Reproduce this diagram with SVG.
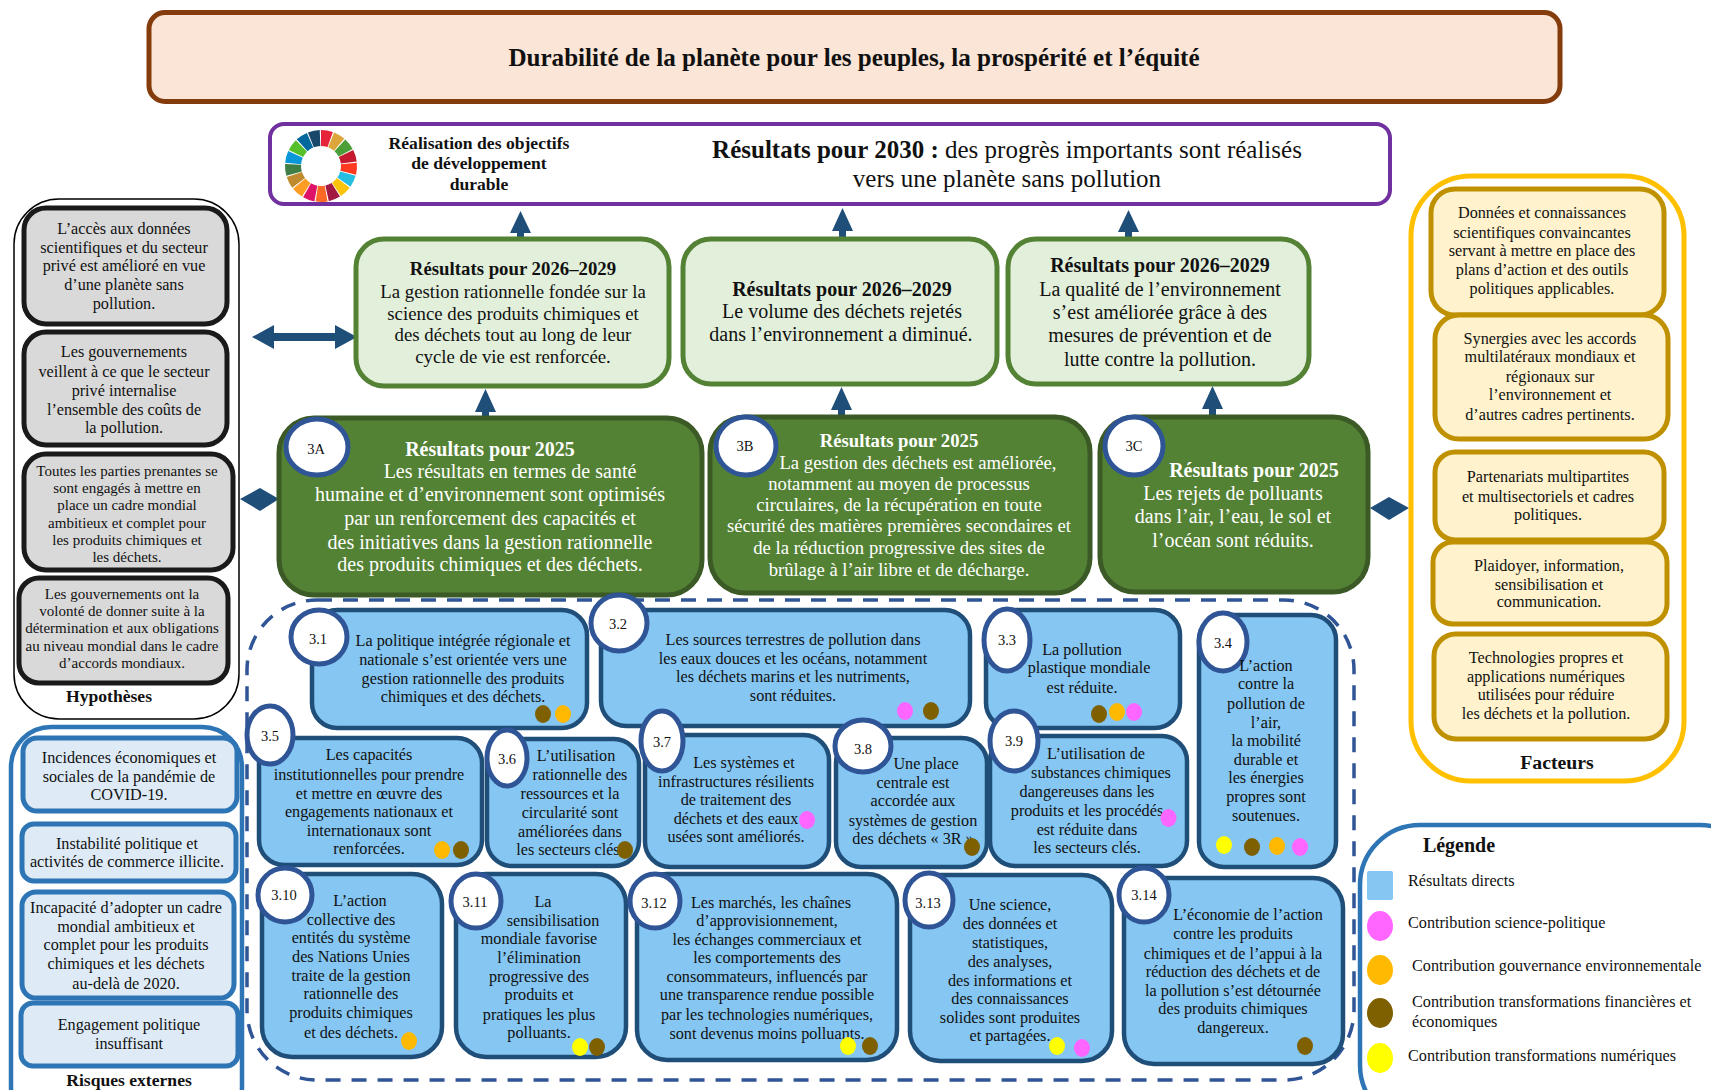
<svg xmlns="http://www.w3.org/2000/svg" width="1711" height="1090" viewBox="0 0 1711 1090">
<style>
text{font-family:"Liberation Serif","Times New Roman",serif;fill:#111;text-anchor:middle}
.b{font-weight:bold}
.s{font-size:14.5px}
.t{font-size:16.200px}
.h{font-size:15px}
.m{font-size:16.200px}
.k{font-size:17.600px}
.l{font-size:18.800px}
.xl{font-size:20px}
.w{fill:#fff}
.st{text-anchor:start}
.hyp{fill:#d9d9d9;stroke:#1a1a1a;stroke-width:5}
.risk{fill:#deebf7;stroke:#2e75b6;stroke-width:5}
.fac{fill:#fff2cc;stroke:#bf9000;stroke-width:5}
.lg{fill:#e2efda;stroke:#548235;stroke-width:5}
.dg{fill:#548235;stroke:#3b5a26;stroke-width:5}
.bb{fill:#85c6f2;stroke:#1f4e79;stroke-width:4.500}
.n{fill:#fff;stroke:#2f5597;stroke-width:5}
.arr{fill:#1f4e79}
.pk{fill:#ff66ff}.or{fill:#ffb900}.br{fill:#7f6000}.ye{fill:#ffff00}
.seg{fill:none;stroke-width:16;stroke-dasharray:9.4 166.5}
</style>
<rect width="1711" height="1090" fill="#fff"/>
<g id="title"><rect x="149" y="12.500" width="1411" height="89" rx="16" fill="#fbe5d6" stroke="#843c0c" stroke-width="5"/><text class="b" x="854" y="66" font-size="25.100">Durabilité de la planète pour les peuples, la prospérité et l’équité</text></g>
<g id="outcome-2030"><rect x="270" y="124" width="1120" height="80" rx="14" fill="#fff" stroke="#7030a0" stroke-width="4"/>
<g id="sdg-wheel">
<circle class="seg" cx="321" cy="166" r="28" stroke="#e5243b" transform="rotate(-90 321 166)"/>
<circle class="seg" cx="321" cy="166" r="28" stroke="#dda63a" transform="rotate(-68.800 321 166)"/>
<circle class="seg" cx="321" cy="166" r="28" stroke="#4c9f38" transform="rotate(-47.600 321 166)"/>
<circle class="seg" cx="321" cy="166" r="28" stroke="#c5192d" transform="rotate(-26.500 321 166)"/>
<circle class="seg" cx="321" cy="166" r="28" stroke="#ff3a21" transform="rotate(-5.300 321 166)"/>
<circle class="seg" cx="321" cy="166" r="28" stroke="#26bde2" transform="rotate(15.900 321 166)"/>
<circle class="seg" cx="321" cy="166" r="28" stroke="#fcc30b" transform="rotate(37.100 321 166)"/>
<circle class="seg" cx="321" cy="166" r="28" stroke="#a21942" transform="rotate(58.200 321 166)"/>
<circle class="seg" cx="321" cy="166" r="28" stroke="#fd6925" transform="rotate(79.400 321 166)"/>
<circle class="seg" cx="321" cy="166" r="28" stroke="#dd1367" transform="rotate(100.600 321 166)"/>
<circle class="seg" cx="321" cy="166" r="28" stroke="#fd9d24" transform="rotate(121.800 321 166)"/>
<circle class="seg" cx="321" cy="166" r="28" stroke="#bf8b2e" transform="rotate(143 321 166)"/>
<circle class="seg" cx="321" cy="166" r="28" stroke="#3f7e44" transform="rotate(164.100 321 166)"/>
<circle class="seg" cx="321" cy="166" r="28" stroke="#0a97d9" transform="rotate(185.300 321 166)"/>
<circle class="seg" cx="321" cy="166" r="28" stroke="#56c02b" transform="rotate(206.500 321 166)"/>
<circle class="seg" cx="321" cy="166" r="28" stroke="#00689d" transform="rotate(227.700 321 166)"/>
<circle class="seg" cx="321" cy="166" r="28" stroke="#19486a" transform="rotate(248.800 321 166)"/>
</g>
<text class="b k" x="479" y="148.500">Réalisation des objectifs</text><text class="b k" x="479" y="169">de développement</text><text class="b k" x="479" y="190">durable</text>
<text x="1007" y="158" font-size="25"><tspan class="b">Résultats pour 2030 :</tspan> des progrès importants sont réalisés</text>
<text x="1007" y="187" font-size="25">vers une planète sans pollution</text></g>

<g id="connectors">
<polygon class="arr" points="520.500,211 531,233 524,233 524,239 517,239 517,233 510,233"/>
<polygon class="arr" points="842.500,208 853,231 846,231 846,239 839,239 839,231 832,231"/>
<polygon class="arr" points="1128.500,210 1139,232 1132,232 1132,239 1125,239 1125,232 1118,232"/>
<polygon class="arr" points="485.500,389 496,412 489,412 489,417 482,417 482,412 475,412"/>
<polygon class="arr" points="841.500,387 852,410 845,410 845,416 838,416 838,410 831,410"/>
<polygon class="arr" points="1212.500,386 1223,409 1216,409 1216,416 1209,416 1209,409 1202,409"/>
<polygon class="arr" points="252,337 274,325 274,333 335,333 335,325 357,337 335,349 335,341 274,341 274,349"/>
<polygon class="arr" points="240,499 260,488 279,499 260,511"/>
<polygon class="arr" points="1370,508 1389,497 1409,508 1389,520"/>
</g>

<g id="hypotheses"><rect x="14" y="199" width="225" height="520" rx="45" fill="#fff" stroke="#000" stroke-width="1.500"/><text class="b k" x="109" y="702">Hypothèses</text></g>
<g id="h1"><rect class="hyp" x="24" y="208" width="203" height="116" rx="22"/><text class="m" x="124" y="234">L’accès aux données</text><text class="m" x="124" y="253">scientifiques et du secteur</text><text class="m" x="124" y="271">privé est amélioré en vue</text><text class="m" x="124" y="290">d’une planète sans</text><text class="m" x="124" y="309">pollution.</text></g>
<g id="h2"><rect class="hyp" x="24" y="332" width="203" height="113" rx="22"/><text class="m" x="124" y="357">Les gouvernements</text><text class="m" x="124" y="377">veillent à ce que le secteur</text><text class="m" x="124" y="396">privé internalise</text><text class="m" x="124" y="415">l’ensemble des coûts de</text><text class="m" x="124" y="433">la pollution.</text></g>
<g id="h3"><rect class="hyp" x="24" y="454" width="209" height="116" rx="22"/><text class="h" x="127" y="476">Toutes les parties prenantes se</text><text class="h" x="127" y="493">sont engagés à mettre en</text><text class="h" x="127" y="510">place un cadre mondial</text><text class="h" x="127" y="528">ambitieux et complet pour</text><text class="h" x="127" y="545">les produits chimiques et</text><text class="h" x="127" y="562">les déchets.</text></g>
<g id="h4"><rect class="hyp" x="19" y="578" width="209" height="105" rx="20"/><text class="h" x="122" y="599">Les gouvernements ont la</text><text class="h" x="122" y="616">volonté de donner suite à la</text><text class="h" x="122" y="633">détermination et aux obligations</text><text class="h" x="122" y="651">au niveau mondial dans le cadre</text><text class="h" x="122" y="668">d’accords mondiaux.</text></g>

<g id="risques"><rect x="11" y="727" width="231" height="400" rx="40" fill="#fff" stroke="#2e75b6" stroke-width="4.500"/><text class="b k" x="129" y="1086">Risques externes</text></g>
<g id="r1"><rect class="risk" x="23" y="738" width="214" height="73" rx="14"/><text class="m" x="129" y="763">Incidences économiques et</text><text class="m" x="129" y="782">sociales de la pandémie de</text><text class="m" x="129" y="800">COVID-19.</text></g>
<g id="r2"><rect class="risk" x="22" y="824" width="214" height="57" rx="12"/><text class="m" x="127" y="849">Instabilité politique et</text><text class="m" x="127" y="867">activités de commerce illicite.</text></g>
<g id="r3"><rect class="risk" x="22" y="892" width="212" height="106" rx="14"/><text class="m" x="126" y="913">Incapacité d’adopter un cadre</text><text class="m" x="126" y="932">mondial ambitieux et</text><text class="m" x="126" y="950">complet pour les produits</text><text class="m" x="126" y="969">chimiques et les déchets</text><text class="m" x="126" y="989">au-delà de 2020.</text></g>
<g id="r4"><rect class="risk" x="21" y="1003" width="217" height="63" rx="12"/><text class="m" x="129" y="1030">Engagement politique</text><text class="m" x="129" y="1049">insuffisant</text></g>

<g id="outputs-frame"><rect x="247" y="600" width="1107" height="480" rx="70" fill="none" stroke="#2f5597" stroke-width="3.500" stroke-dasharray="15 11"/></g>

<g id="lg1"><rect class="lg" x="356" y="239" width="313" height="147" rx="28"/><text class="l b" x="513" y="275">Résultats pour 2026–2029</text><text class="l" x="513" y="298">La gestion rationnelle fondée sur la</text><text class="l" x="513" y="320">science des produits chimiques et</text><text class="l" x="513" y="341">des déchets tout au long de leur</text><text class="l" x="513" y="363">cycle de vie est renforcée.</text></g>
<g id="lg2"><rect class="lg" x="683" y="239" width="314" height="145" rx="28"/><text class="xl b" x="842" y="296">Résultats pour 2026–2029</text><text class="xl" x="842" y="318">Le volume des déchets rejetés</text><text class="xl" x="841" y="341">dans l’environnement a diminué.</text></g>
<g id="lg3"><rect class="lg" x="1008" y="239" width="301" height="145" rx="28"/><text class="xl b" x="1160" y="272">Résultats pour 2026–2029</text><text class="xl" x="1160" y="296">La qualité de l’environnement</text><text class="xl" x="1160" y="319">s’est améliorée grâce à des</text><text class="xl" x="1160" y="342">mesures de prévention et de</text><text class="xl" x="1160" y="366">lutte contre la pollution.</text></g>

<g id="n3A"><rect class="dg" x="279" y="418" width="423" height="177" rx="35"/><ellipse class="n" cx="317" cy="447" rx="31" ry="28"/><text class="s" x="316" y="454">3A</text><text class="xl b w" x="490" y="456">Résultats pour 2025</text><text class="xl w" x="510" y="478">Les résultats en termes de santé</text><text class="xl w" x="490" y="501">humaine et d’environnement sont optimisés</text><text class="xl w" x="490" y="525">par un renforcement des capacités et</text><text class="xl w" x="490" y="549">des initiatives dans la gestion rationnelle</text><text class="xl w" x="490" y="571">des produits chimiques et des déchets.</text></g>
<g id="n3B"><rect class="dg" x="710" y="417" width="380" height="176" rx="35"/><ellipse class="n" cx="746" cy="446" rx="30" ry="29"/><text class="s" x="745" y="451">3B</text><text class="b w" font-size="18.700" x="899" y="447">Résultats pour 2025</text><text class="w" font-size="18.700" x="918" y="469">La gestion des déchets est améliorée,</text><text class="w" font-size="18.700" x="899" y="490">notamment au moyen de processus</text><text class="w" font-size="18.700" x="899" y="511">circulaires, de la récupération en toute</text><text class="w" font-size="18.700" x="899" y="532">sécurité des matières premières secondaires et</text><text class="w" font-size="18.700" x="899" y="554">de la réduction progressive des sites de</text><text class="w" font-size="18.700" x="899" y="576">brûlage à l’air libre et de décharge.</text></g>
<g id="n3C"><rect class="dg" x="1100" y="417" width="268" height="175" rx="35"/><ellipse class="n" cx="1134" cy="446" rx="29" ry="29"/><text class="s" x="1134" y="451">3C</text><text class="xl b w" x="1254" y="477">Résultats pour 2025</text><text class="xl w" x="1233" y="500">Les rejets de polluants</text><text class="xl w" x="1233" y="523">dans l’air, l’eau, le sol et</text><text class="xl w" x="1233" y="547">l’océan sont réduits.</text></g>

<g id="n3-1"><rect class="bb" x="312" y="610" width="275" height="118" rx="25"/><ellipse class="n" cx="319" cy="637" rx="28" ry="27"/><text class="s" x="318" y="644">3.1</text><g class="t"><text x="463" y="646">La politique intégrée régionale et</text><text x="463" y="665">nationale s’est orientée vers une</text><text x="463" y="684">gestion rationnelle des produits</text><text x="463" y="702">chimiques et des déchets.</text></g><ellipse class="br" cx="543" cy="714" rx="8" ry="9"/><ellipse class="or" cx="563" cy="714" rx="8" ry="9"/></g>
<g id="n3-2"><rect class="bb" x="601" y="610" width="369" height="116" rx="25"/><ellipse class="n" cx="619" cy="623" rx="28" ry="28"/><text class="s" x="618" y="629">3.2</text><g class="t"><text x="793" y="645">Les sources terrestres de pollution dans</text><text x="793" y="664">les eaux douces et les océans, notamment</text><text x="793" y="682">les déchets marins et les nutriments,</text><text x="793" y="701">sont réduites.</text></g><ellipse class="pk" cx="905" cy="711" rx="8" ry="9"/><ellipse class="br" cx="931" cy="711" rx="8" ry="9"/></g>
<g id="n3-3"><rect class="bb" x="986" y="610" width="194" height="118" rx="25"/><ellipse class="n" cx="1007" cy="640" rx="23" ry="31"/><text class="s" x="1007" y="645">3.3</text><g class="t"><text x="1082" y="655">La pollution</text><text x="1089" y="673">plastique mondiale</text><text x="1082" y="693">est réduite.</text></g><ellipse class="br" cx="1099" cy="714" rx="8" ry="9"/><ellipse class="or" cx="1117" cy="712" rx="8" ry="9"/><ellipse class="pk" cx="1134" cy="712" rx="8" ry="9"/></g>
<g id="n3-4"><rect class="bb" x="1199" y="615" width="137" height="252" rx="25"/><ellipse class="n" cx="1223" cy="642" rx="24" ry="29"/><text class="s" x="1223" y="648">3.4</text><g class="t"><text x="1266" y="671">L’action</text><text x="1266" y="689">contre la</text><text x="1266" y="709">pollution de</text><text x="1266" y="728">l’air,</text><text x="1266" y="746">la mobilité</text><text x="1266" y="765">durable et</text><text x="1266" y="783">les énergies</text><text x="1266" y="802">propres sont</text><text x="1266" y="821">soutenues.</text></g><ellipse class="ye" cx="1224" cy="845" rx="8" ry="9"/><ellipse class="br" cx="1252" cy="847" rx="8" ry="9"/><ellipse class="or" cx="1277" cy="846" rx="8" ry="9"/><ellipse class="pk" cx="1300" cy="847" rx="8" ry="9"/></g>
<g id="n3-5"><rect class="bb" x="259" y="738" width="223" height="127" rx="25"/><ellipse class="n" cx="270" cy="735" rx="23" ry="29"/><text class="s" x="270" y="741">3.5</text><g class="t"><text x="369" y="760">Les capacités</text><text x="369" y="780">institutionnelles pour prendre</text><text x="369" y="799">et mettre en œuvre des</text><text x="369" y="817">engagements nationaux et</text><text x="369" y="836">internationaux sont</text><text x="369" y="854">renforcées.</text></g><ellipse class="or" cx="442" cy="850" rx="8" ry="9"/><ellipse class="br" cx="461" cy="850" rx="8" ry="9"/></g>
<g id="n3-6"><rect class="bb" x="487" y="739" width="152" height="127" rx="25"/><ellipse class="n" cx="507" cy="758" rx="20" ry="28"/><text class="s" x="507" y="764">3.6</text><g class="t"><text x="576" y="761">L’utilisation</text><text x="580" y="780">rationnelle des</text><text x="570" y="799">ressources et la</text><text x="570" y="818">circularité sont</text><text x="570" y="837">améliorées dans</text><text x="570" y="855">les secteurs clés.</text></g><ellipse class="br" cx="625" cy="850" rx="8" ry="9"/></g>
<g id="n3-7"><rect class="bb" x="645" y="735" width="184" height="132" rx="25"/><ellipse class="n" cx="662" cy="741" rx="21" ry="30"/><text class="s" x="662" y="747">3.7</text><g class="t"><text x="744" y="768">Les systèmes et</text><text x="736" y="787">infrastructures résilients</text><text x="736" y="805">de traitement des</text><text x="736" y="824">déchets et des eaux</text><text x="736" y="842">usées sont améliorés.</text></g><ellipse class="pk" cx="807" cy="820" rx="8" ry="9"/></g>
<g id="n3-8"><rect class="bb" x="836" y="738" width="151" height="129" rx="25"/><ellipse class="n" cx="863" cy="746" rx="28" ry="26"/><text class="s" x="863" y="754">3.8</text><g class="t"><text x="926" y="769">Une place</text><text x="913" y="788">centrale est</text><text x="913" y="806">accordée aux</text><text x="913" y="826">systèmes de gestion</text><text x="913" y="844">des déchets « 3R »</text></g><ellipse class="br" cx="972" cy="847" rx="8" ry="9"/></g>
<g id="n3-9"><rect class="bb" x="990" y="736" width="197" height="130" rx="25"/><ellipse class="n" cx="1014" cy="741" rx="24" ry="30"/><text class="s" x="1014" y="746">3.9</text><g class="t"><text x="1096" y="759">L’utilisation de</text><text x="1101" y="778">substances chimiques</text><text x="1087" y="797">dangereuses dans les</text><text x="1087" y="816">produits et les procédés</text><text x="1087" y="835">est réduite dans</text><text x="1087" y="853">les secteurs clés.</text></g><ellipse class="pk" cx="1168.500" cy="818" rx="8" ry="9"/></g>
<g id="n3-10"><rect class="bb" x="262" y="874" width="180" height="183" rx="30"/><ellipse class="n" cx="285" cy="895" rx="27" ry="27"/><text class="s" x="284" y="900">3.10</text><g class="t"><text x="360" y="906">L’action</text><text x="351" y="925">collective des</text><text x="351" y="943">entités du système</text><text x="351" y="962">des Nations Unies</text><text x="351" y="981">traite de la gestion</text><text x="351" y="999">rationnelle des</text><text x="351" y="1018">produits chimiques</text><text x="351" y="1038">et des déchets.</text></g><ellipse class="or" cx="409" cy="1041" rx="8" ry="9"/></g>
<g id="n3-11"><rect class="bb" x="456" y="874" width="170" height="183" rx="30"/><ellipse class="n" cx="476" cy="901" rx="25" ry="27"/><text class="s" x="475" y="907">3.11</text><g class="t"><text x="543" y="907">La</text><text x="553" y="926">sensibilisation</text><text x="539" y="944">mondiale favorise</text><text x="539" y="963">l’élimination</text><text x="539" y="982">progressive des</text><text x="539" y="1000">produits et</text><text x="539" y="1020">pratiques les plus</text><text x="539" y="1038">polluants.</text></g><ellipse class="ye" cx="580" cy="1047" rx="8" ry="9"/><ellipse class="br" cx="597" cy="1047" rx="8" ry="9"/></g>
<g id="n3-12"><rect class="bb" x="637" y="874" width="260" height="186" rx="30"/><ellipse class="n" cx="655" cy="901" rx="25" ry="27"/><text class="s" x="654" y="908">3.12</text><g class="t"><text x="771" y="908">Les marchés, les chaînes</text><text x="767" y="926">d’approvisionnement,</text><text x="767" y="945">les échanges commerciaux et</text><text x="767" y="963">les comportements des</text><text x="767" y="982">consommateurs, influencés par</text><text x="767" y="1000">une transparence rendue possible</text><text x="767" y="1020">par les technologies numériques,</text><text x="767" y="1039">sont devenus moins polluants.</text></g><ellipse class="ye" cx="848" cy="1046" rx="8" ry="9"/><ellipse class="br" cx="870" cy="1046" rx="8" ry="9"/></g>
<g id="n3-13"><rect class="bb" x="910" y="875" width="202" height="186" rx="30"/><ellipse class="n" cx="929" cy="900" rx="24" ry="27"/><text class="s" x="928" y="908">3.13</text><g class="t"><text x="1010" y="910">Une science,</text><text x="1010" y="929">des données et</text><text x="1010" y="948">statistiques,</text><text x="1010" y="967">des analyses,</text><text x="1010" y="986">des informations et</text><text x="1010" y="1004">des connaissances</text><text x="1010" y="1023">solides sont produites</text><text x="1010" y="1041">et partagées.</text></g><ellipse class="ye" cx="1057" cy="1046" rx="8" ry="9"/><ellipse class="pk" cx="1082" cy="1048" rx="8" ry="9"/></g>
<g id="n3-14"><rect class="bb" x="1124" y="878" width="219" height="186" rx="30"/><ellipse class="n" cx="1144" cy="895" rx="25" ry="27"/><text class="s" x="1144" y="900">3.14</text><g class="t"><text x="1248" y="920">L’économie de l’action</text><text x="1233" y="939">contre les produits</text><text x="1233" y="959">chimiques et de l’appui à la</text><text x="1233" y="977">réduction des déchets et de</text><text x="1233" y="996">la pollution s’est détournée</text><text x="1233" y="1014">des produits chimiques</text><text x="1233" y="1033">dangereux.</text></g><ellipse class="br" cx="1305" cy="1046" rx="8" ry="9"/></g>

<g id="facteurs"><rect x="1411" y="176" width="273" height="605" rx="60" fill="#fff" stroke="#ffc000" stroke-width="5"/><text class="b" font-size="19.800" x="1557" y="769">Facteurs</text></g>
<g id="f1"><rect class="fac" x="1431" y="189" width="233" height="126" rx="24"/><text class="m" x="1542" y="218">Données et connaissances</text><text class="m" x="1542" y="238">scientifiques convaincantes</text><text class="m" x="1542" y="256">servant à mettre en place des</text><text class="m" x="1542" y="275">plans d’action et des outils</text><text class="m" x="1542" y="294">politiques applicables.</text></g>
<g id="f2"><rect class="fac" x="1435" y="315" width="233" height="124" rx="24"/><text class="m" x="1550" y="344">Synergies avec les accords</text><text class="m" x="1550" y="362">multilatéraux mondiaux et</text><text class="m" x="1550" y="382">régionaux sur</text><text class="m" x="1550" y="400">l’environnement et</text><text class="m" x="1550" y="420">d’autres cadres pertinents.</text></g>
<g id="f3"><rect class="fac" x="1435" y="452" width="229" height="88" rx="20"/><text class="m" x="1548" y="482">Partenariats multipartites</text><text class="m" x="1548" y="502">et multisectoriels et cadres</text><text class="m" x="1548" y="520">politiques.</text></g>
<g id="f4"><rect class="fac" x="1433" y="542" width="234" height="82" rx="20"/><text class="m" x="1549" y="571">Plaidoyer, information,</text><text class="m" x="1549" y="590">sensibilisation et</text><text class="m" x="1549" y="607">communication.</text></g>
<g id="f5"><rect class="fac" x="1434" y="634" width="233" height="105" rx="22"/><text class="m" x="1546" y="663">Technologies propres et</text><text class="m" x="1546" y="682">applications numériques</text><text class="m" x="1546" y="700">utilisées pour réduire</text><text class="m" x="1546" y="719">les déchets et la pollution.</text></g>

<g id="legende"><rect x="1360" y="825" width="400" height="300" rx="60" fill="#fff" stroke="#2e75b6" stroke-width="4.500"/><text class="b" font-size="20" x="1459" y="852">Légende</text>
<rect x="1367" y="871" width="26" height="29" rx="2" fill="#85c6f2"/><text class="m st" x="1408" y="886">Résultats directs</text>
<ellipse class="pk" cx="1380" cy="926" rx="13" ry="15"/><text class="m st" x="1408" y="928">Contribution science-politique</text>
<ellipse class="or" cx="1380" cy="970" rx="13" ry="15"/><text class="m st" x="1412" y="971">Contribution gouvernance environnementale</text>
<ellipse class="br" cx="1380" cy="1013" rx="13" ry="15"/><text class="m st" x="1412" y="1007">Contribution transformations financières et</text><text class="m st" x="1412" y="1027">économiques</text>
<ellipse class="ye" cx="1380" cy="1058" rx="13" ry="15"/><text class="m st" x="1408" y="1061">Contribution transformations numériques</text></g>
</svg>
